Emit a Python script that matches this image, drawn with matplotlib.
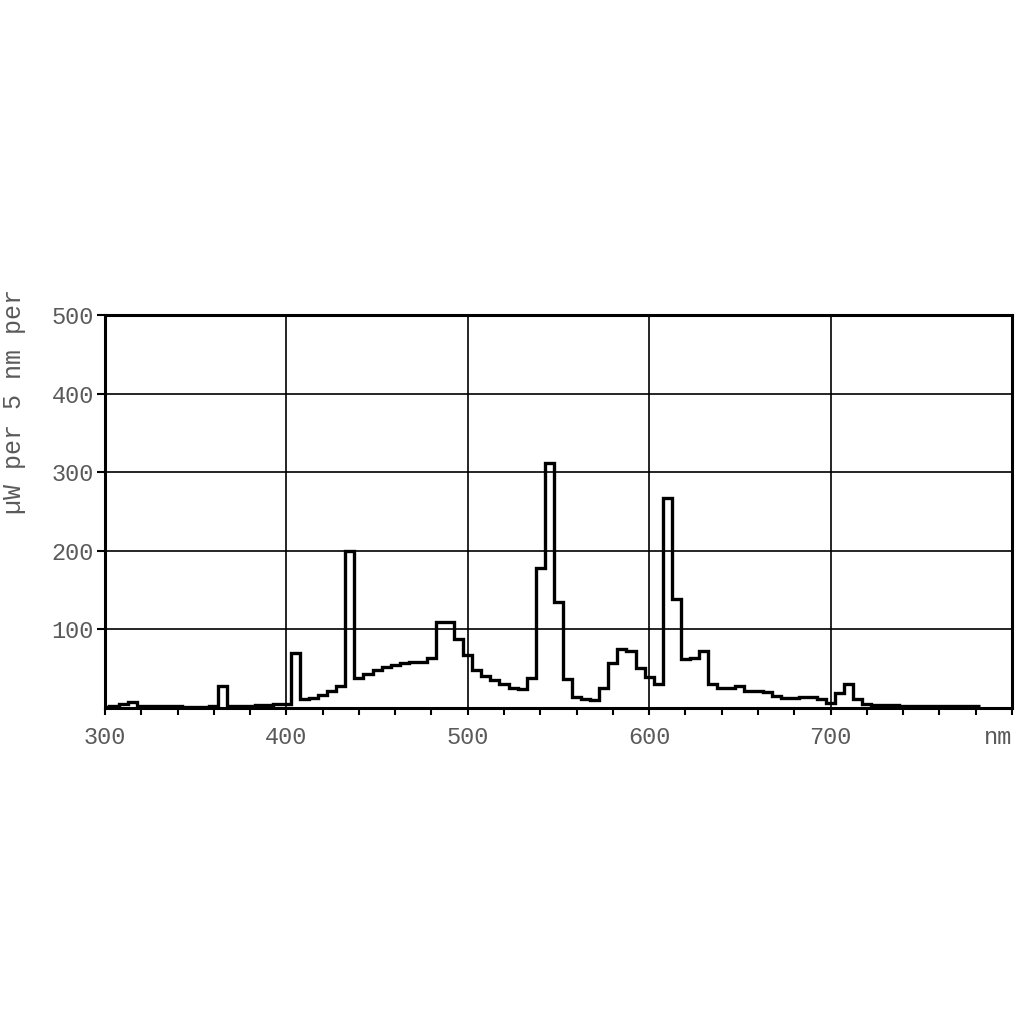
import numpy as np
import matplotlib
matplotlib.use("Agg")
import matplotlib.pyplot as plt
from matplotlib.ticker import MultipleLocator
import matplotlib.transforms as mtransforms

# --- DATA: 5 nm bins, centres 300..780 nm ---
centres = np.arange(300, 781, 5)
power = [
    1, 3, 5, 8, 3, 2, 2, 3, 2, 1,            # 300-345
    1, 1, 2, 28, 2, 3, 3, 4, 4, 5,           # 350-395
    5, 70, 12, 13, 17, 22, 28, 200, 38, 43,  # 400-445
    48, 52, 55, 57, 58, 59, 64, 110, 110, 88,  # 450-495
    67, 48, 41, 36, 30, 26, 24, 38, 178, 312,  # 500-545
    135, 37, 14, 12, 10, 25, 57, 75, 72, 51,   # 550-595
    39, 30, 267, 139, 62, 64, 73, 30, 26, 25,  # 600-645
    28, 22, 22, 21, 15, 13, 13, 14, 14, 11,    # 650-695
    7, 19, 30, 12, 5, 4, 4, 4, 3, 3,           # 700-745
    3, 2, 2, 3, 3, 2, 2,                       # 750-780
]
x_labels = ["300", "400", "500", "600", "700"]
y_labels = ["100", "200", "300", "400", "500"]

edges = np.append(centres - 2.5, centres[-1] + 2.5)

mono = ["Liberation Mono", "DejaVu Sans Mono"]
grey = "#5a5a5a"

fig = plt.figure(figsize=(10.16, 10.16), dpi=100)
ax = fig.add_axes([0.1033, 0.3031, 0.8927, 0.3869])

ax.stairs(power, edges, color="black", lw=2.4, baseline=None)

ax.set_xlim(300, 800)
ax.set_ylim(0, 500)

ax.xaxis.set_major_locator(MultipleLocator(100))
ax.xaxis.set_minor_locator(MultipleLocator(20))
ax.set_xticks([300, 400, 500, 600, 700, 800])
ax.set_xticklabels(x_labels + [""])
ax.set_yticks([100, 200, 300, 400, 500])
ax.set_yticklabels(y_labels)

ax.grid(True, which="major", color="black", lw=1.2)
ax.tick_params(axis="x", which="both", direction="out", length=5, width=1.5,
               pad=8, labelcolor=grey, labelsize=17)
ax.tick_params(axis="y", which="major", direction="out", length=6, width=1.5,
               pad=2, labelcolor=grey, labelsize=17)
for lab in ax.get_xticklabels() + ax.get_yticklabels():
    lab.set_family(mono)

for sp in ax.spines.values():
    sp.set_linewidth(2.2)

# unit text at right end of x axis
trans = mtransforms.blended_transform_factory(ax.transData, ax.transAxes)
ax.text(800, -0.045, "nm", transform=trans, ha="right", va="top",
        fontsize=17, color=grey, family=mono)

# y label (partially cut off in the source)
fig.text(0.014, 0.605, "\u00b5W per 5 nm per", rotation=90, ha="center",
         va="center", fontsize=18, color=grey, family=mono)

fig.savefig("out.png", dpi=100)
